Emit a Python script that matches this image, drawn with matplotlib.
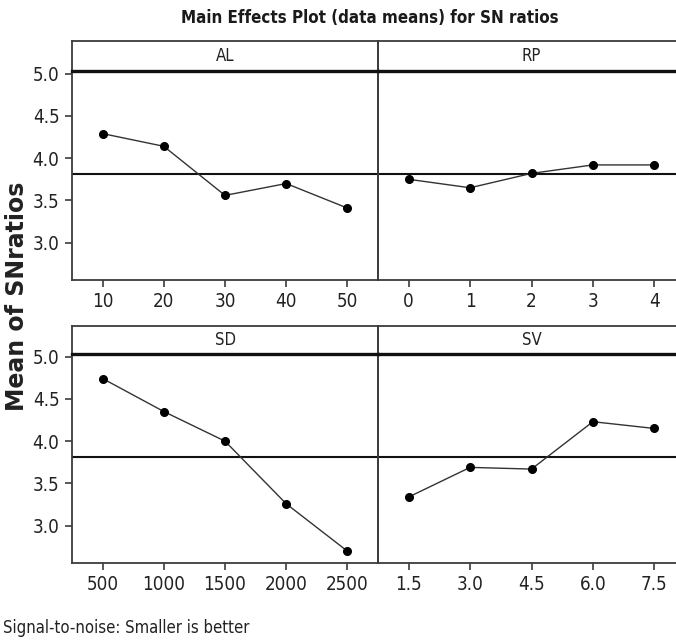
import matplotlib
matplotlib.use("Agg")
import matplotlib.pyplot as plt
from matplotlib import font_manager
from matplotlib.font_manager import FontProperties

# Factor levels and mean SN ratios for each factor
al_levels = ["10", "20", "30", "40", "50"]
al_means = [4.29, 4.14, 3.56, 3.70, 3.41]

rp_levels = ["0", "1", "2", "3", "4"]
rp_means = [3.75, 3.65, 3.82, 3.92, 3.92]

sd_levels = ["500", "1000", "1500", "2000", "2500"]
sd_means = [4.74, 4.35, 4.00, 3.26, 2.70]

sv_levels = ["1.5", "3.0", "4.5", "6.0", "7.5"]
sv_means = [3.34, 3.69, 3.67, 4.23, 4.15]

grand_mean = 3.81
y_ticks = [3.0, 3.5, 4.0, 4.5, 5.0]
y_tick_labels = ["3.0", "3.5", "4.0", "4.5", "5.0"]


def narrow_font(bold, size):
    """Pick a condensed face if one is installed, else a plain sans."""
    for f in font_manager.fontManager.ttflist:
        name = f.name.lower()
        is_narrow = ("narrow" in name or "condensed" in name
                     or str(f.stretch) in ("condensed", "semi-condensed"))
        w = f.weight if isinstance(f.weight, int) else (700 if "bold" in str(f.weight) else 400)
        if is_narrow and f.style == "normal" and ((w >= 600) == bold):
            return FontProperties(fname=f.fname, size=size)
    return FontProperties(family="Liberation Sans",
                          weight="bold" if bold else "normal", size=size * 0.9)


tick_fp = narrow_font(False, 13.5)
strip_fp = narrow_font(False, 12)
foot_fp = narrow_font(False, 12)
title_fp = narrow_font(True, 12.2)

frame_col = "#3c3c3c"

W, H = 676, 644
fig = plt.figure(figsize=(W / 100, H / 100), dpi=100)
fig.patch.set_facecolor("white")


def rect(l, r, t, b):
    return [l / W, 1 - b / H, (r - l) / W, (b - t) / H]


cols = [(72, 378), (378, 685)]
rows = [dict(strip=(41, 71), data=(71, 280)),
        dict(strip=(326, 354), data=(354, 563))]

panels = [
    (0, 0, "AL", al_levels, al_means),
    (0, 1, "RP", rp_levels, rp_means),
    (1, 0, "SD", sd_levels, sd_means),
    (1, 1, "SV", sv_levels, sv_means),
]

for r, c, name, levels, means in panels:
    l, rr = cols[c]
    st, sb = rows[r]["strip"]
    dt, db = rows[r]["data"]

    ax = fig.add_axes(rect(l, rr, dt, db))
    ax.patch.set_visible(False)
    x = list(range(len(levels)))
    ax.axhline(grand_mean, color="#111111", lw=1.5, zorder=1)
    ax.plot(x, means, color="#333333", lw=1.0, zorder=2)
    ax.plot(x, means, "o", color="black", ms=5.5, zorder=3)
    ax.set_xlim(-0.5, 4.5)
    ax.set_ylim(2.56, 5.03)
    ax.set_xticks(x)
    ax.set_xticklabels(levels, fontproperties=tick_fp, color="#222222")
    if c == 0:
        ax.set_yticks(y_ticks)
        ax.set_yticklabels(y_tick_labels, fontproperties=tick_fp,
                           color="#222222")
    else:
        ax.set_yticks([])
    ax.tick_params(axis="both", direction="out", length=5, width=1.2,
                   color=frame_col, pad=4)
    for side, sp in ax.spines.items():
        sp.set_color(frame_col)
        sp.set_linewidth(1.3)
    ax.spines["top"].set_visible(False)

    # strip header with the factor name
    sax = fig.add_axes(rect(l, rr, st, sb))
    sax.patch.set_visible(False)
    sax.set_xticks([])
    sax.set_yticks([])
    for side, sp in sax.spines.items():
        sp.set_color(frame_col)
        sp.set_linewidth(1.3)
    sax.spines["bottom"].set_linewidth(2.4)
    sax.spines["bottom"].set_color("#111111")
    sax.text(0.5, 0.5, name, transform=sax.transAxes, ha="center",
             va="center", fontproperties=strip_fp, color="#222222")

fig.text(370 / W, 1 - 18 / H, "Main Effects Plot (data means) for SN ratios",
         ha="center", va="center", fontproperties=title_fp, color="#1a1a1a")

fig.text(17 / W, 1 - 296 / H, "Mean of SNratios", rotation=90,
         ha="center", va="center", fontsize=17, fontweight="bold",
         family="DejaVu Sans", color="#222222")

fig.text(3 / W, 1 - 628 / H, "Signal-to-noise: Smaller is better",
         ha="left", va="center", fontproperties=foot_fp, color="#222222")

fig.savefig("out.png", dpi=100, facecolor="white")
